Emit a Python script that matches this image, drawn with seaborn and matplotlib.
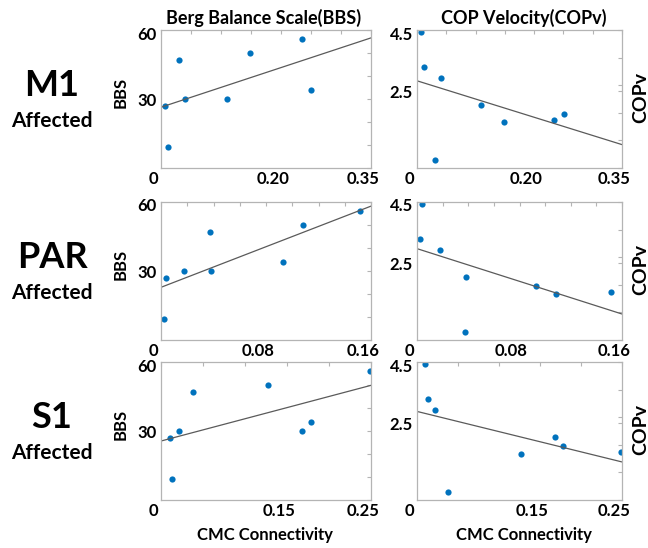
import matplotlib
matplotlib.use('Agg')
import matplotlib.pyplot as plt
import matplotlib.transforms as mtransforms
import numpy as np
import seaborn as sns

# same 8 subjects in every panel: BBS / COP velocity, CMC connectivity per region
bbs = [27, 9, 47, 30, 30, 50, 56, 34]
copv = [4.42, 3.30, 0.25, 2.95, 2.07, 1.51, 1.56, 1.75]
cmc_m1 = [0.0065, 0.0115, 0.0308, 0.0402, 0.1094, 0.1478, 0.2342, 0.2505]
cmc_par = [0.0036, 0.0023, 0.0375, 0.0178, 0.0383, 0.1082, 0.1518, 0.0926]
cmc_s1 = [0.0103, 0.0129, 0.0376, 0.0216, 0.1681, 0.1271, 0.2484, 0.1780]

regions = ['M1', 'PAR', 'S1']
cmc = [cmc_m1, cmc_par, cmc_s1]
x_max = [0.35, 0.16, 0.25]
x_labels = [['0', '0.20', '0.35'], ['0', '0.08', '0.16'], ['0', '0.15', '0.25']]
x_major = [[0, 0.20, 0.35], [0, 0.08, 0.16], [0, 0.15, 0.25]]
x_minor_step = [0.05, 0.02, 0.05]

sns.set_theme(style='white')
plt.rcParams['font.family'] = ['Lato', 'DejaVu Sans']
plt.rcParams['font.weight'] = 'bold'
plt.rcParams['text.color'] = 'black'
plt.rcParams['axes.labelcolor'] = 'black'

W, H = 648, 548
fig = plt.figure(figsize=(W / 100, H / 100), dpi=100)

row_bottom = [168, 340, 500]   # pixel y of the x axis for each row
ax_h = 138
dot = '#0072BD'
grey = '#b4b4b4'
shift = mtransforms.ScaledTranslation(-0.08, 0, fig.dpi_scale_trans)
drop = mtransforms.ScaledTranslation(0, -0.03, fig.dpi_scale_trans)


def style(ax, xmax, xmaj, xlab, xstep, ymax, ymaj, ylab, ystep):
    ax.set_xlim(0, xmax)
    ax.set_ylim(0, ymax)
    ax.set_xticks(xmaj)
    ax.set_xticklabels(xlab)
    ax.set_xticks(np.arange(0, xmax + 1e-9, xstep), minor=True)
    ax.set_yticks(ymaj)
    ax.set_yticklabels(ylab)
    ax.set_yticks(np.arange(0, ymax + 1e-9, ystep), minor=True)
    ax.tick_params(which='both', direction='in', top=True, right=True,
                   color=grey, length=3, width=0.8)
    ax.tick_params(labelsize=12, labelcolor='black')
    ax.tick_params(axis='x', pad=2)
    ax.tick_params(axis='y', pad=3)
    for lab in ax.get_xticklabels() + ax.get_yticklabels():
        lab.set_fontweight('bold')
    for lab in ax.get_xticklabels():
        lab.set_transform(lab.get_transform() + shift)
    top = ax.get_yticklabels()[-1]
    top.set_transform(top.get_transform() + drop)
    for sp in ax.spines.values():
        sp.set_color(grey)
        sp.set_linewidth(0.9)


for i, reg in enumerate(regions):
    bottom = 1 - row_bottom[i] / H
    ax1 = fig.add_axes([161 / W, bottom, 210 / W, ax_h / H])
    ax2 = fig.add_axes([417 / W, bottom, 205 / W, ax_h / H])

    # limits first so the fitted line runs across the whole axis
    ax1.set_xlim(0, x_max[i]); ax1.set_ylim(0, 60)
    ax2.set_xlim(0, x_max[i]); ax2.set_ylim(0, 4.5)

    sns.regplot(x=cmc[i], y=bbs, ax=ax1, ci=None, truncate=False,
                scatter_kws={'s': 20, 'color': dot, 'linewidths': 0, 'alpha': 1},
                line_kws={'color': '#5a5a5a', 'lw': 0.9})
    sns.regplot(x=cmc[i], y=copv, ax=ax2, ci=None, truncate=False,
                scatter_kws={'s': 20, 'color': dot, 'linewidths': 0, 'alpha': 1},
                line_kws={'color': '#5a5a5a', 'lw': 0.9})

    style(ax1, x_max[i], x_major[i], x_labels[i], x_minor_step[i],
          60, [0, 30, 60], ['', '30', '60'], 10)
    style(ax2, x_max[i], x_major[i], x_labels[i], x_minor_step[i],
          4.5, [0, 2.5, 4.5], ['', '2.5', '4.5'], 0.9)

    ax1.set_ylabel('BBS', fontsize=12, fontweight='bold', color='black')
    ax1.yaxis.set_label_coords(-0.155, 0.55)
    ax2.set_ylabel('')
    ax2.text(1.09, 0.51, 'COPv', transform=ax2.transAxes, rotation=90,
             ha='center', va='center', fontsize=14, fontweight='bold')

    y_mid = 1 - (row_bottom[i] - ax_h / 2) / H
    fig.text(52 / W, y_mid + 0.025, reg, ha='center', va='center',
             fontsize=26, fontweight='bold')
    fig.text(52 / W, y_mid - 0.04, 'Affected', ha='center', va='center',
             fontsize=15, fontweight='bold')

fig.text(264 / W, 1 - 18 / H, 'Berg Balance Scale(BBS)', ha='center',
         va='center', fontsize=13, fontweight='bold')
fig.text(524 / W, 1 - 18 / H, 'COP Velocity(COPv)', ha='center',
         va='center', fontsize=13, fontweight='bold')
fig.text(265 / W, 1 - 535 / H, 'CMC Connectivity', ha='center',
         va='center', fontsize=12, fontweight='bold')
fig.text(524 / W, 1 - 535 / H, 'CMC Connectivity', ha='center',
         va='center', fontsize=12, fontweight='bold')

fig.savefig('out.png', dpi=100, facecolor='white')
